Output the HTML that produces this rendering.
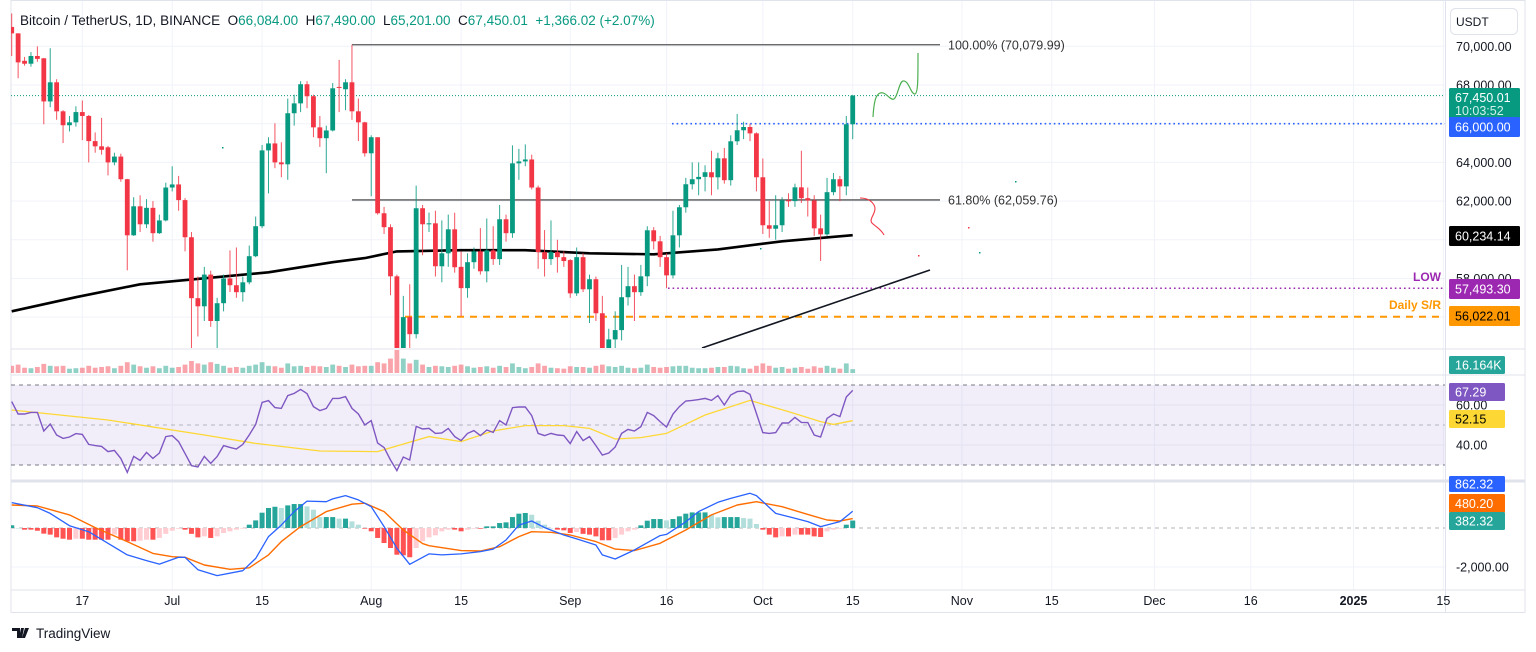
<!DOCTYPE html>
<html><head><meta charset="utf-8">
<style>
html,body{margin:0;padding:0;background:#fff;}
body{width:1536px;height:652px;overflow:hidden;font-family:"Liberation Sans",sans-serif;}
svg{display:block}
text{font-family:"Liberation Sans",sans-serif;}
</style></head>
<body>
<svg id="chart" width="1536" height="652" viewBox="0 0 1536 652" xmlns="http://www.w3.org/2000/svg">
<defs>
<clipPath id="mainClip"><rect x="11" y="0" width="1434" height="348"/></clipPath>
<clipPath id="paneClip"><rect x="11" y="350" width="1434" height="240"/></clipPath>
</defs>
<g id="grid"></g>
<g id="panes"></g>
<g id="mainG" clip-path="url(#mainClip)"></g>
<g id="subG" clip-path="url(#paneClip)"></g>
<g id="axisG"></g>
</svg>
<script>
// ---------- DATA ----------
const candleOpen = [71000,70670,69250,69100,69500,69380,67150,68140,66640,65920,66070,66600,66400,65100,64830,64780,64000,64300,63130,60230,61730,60800,61650,60340,61000,62700,62860,62050,60130,56980,56560,58200,55800,56720,58000,57650,57290,57800,59150,60700,64620,64980,64000,63900,66540,67050,68040,67420,65810,65250,65650,67900,67780,68140,66640,66070,64470,65300,61370,60650,58110,54400,56000,55120,61630,60850,60850,58630,59300,60540,58600,57500,58840,59400,58370,59450,59000,61060,60340,63950,64050,64150,62700,59360,59000,59360,59100,58950,57230,59100,57440,57960,56200,54400,54850,55330,57030,57600,57290,58110,60490,59920,59100,58160,60230,61680,62870,63130,63250,63490,63230,64210,63080,65090,65660,65830,65500,63230,60750,60570,60750,62040,62000,62710,62150,62030,60590,60280,62460,63130,62760,65970];
const candleClose = [70670,69170,69100,69500,69350,67150,68140,66640,65920,66070,66600,66400,65100,64830,64650,64000,64300,63130,60230,61730,60800,61650,60340,61000,62700,62860,62050,60130,56980,56560,58200,55800,56720,58000,57650,57290,57800,59150,60700,64620,64980,64000,63900,66540,67050,68040,67420,65810,65250,65650,67830,67850,68140,66640,66070,64470,65300,61370,60650,58110,54400,56000,55120,61630,60800,60850,58630,59300,60540,58580,57500,58840,59400,58370,59450,59000,61060,60340,63950,64050,64150,62700,59360,59000,59360,59100,58900,57230,59100,57440,57960,56200,54400,54850,55330,57030,57600,57290,58110,60490,59920,59100,58160,60230,61680,62870,63130,63250,63490,63230,64210,63080,65090,65660,65830,65500,63230,60750,60570,60750,62040,62000,62710,62150,62030,60590,60280,62460,63130,62760,65970,67450];
const candleHigh = [71700,70670,69450,69700,70000,69400,69900,68300,66700,66400,66900,67200,66450,65550,66300,64850,64500,64450,63150,62200,62300,62100,62000,61300,62950,63800,63300,62150,60400,58100,58600,58400,57000,58200,59450,59600,58100,59700,61200,64900,65300,66020,65040,67300,67500,68200,68200,67500,66400,65900,68100,69300,68300,70080,67300,66100,65400,65300,61700,60800,58200,57100,57700,62800,61800,61400,61500,61000,61300,61400,59400,59300,59600,60600,61100,60700,61800,61300,64880,64700,64930,64400,62800,60500,61000,60000,59400,59000,59600,59300,58200,58100,57100,55400,56300,58700,58600,58200,58700,60700,60650,60200,59300,61500,61800,63200,64000,64000,63850,64600,64500,64750,65400,66500,66100,66000,65550,64200,62000,62300,62200,62400,62900,64600,62700,62300,61300,63200,63450,63300,66400,67490];
const candleLow = [69500,68350,69000,68950,69200,65970,66850,66200,65000,65600,65850,65150,64000,64500,64400,63330,63850,63000,58420,60200,60400,60600,59900,60300,60950,62500,61500,59400,54400,55000,55800,55500,54400,56300,57300,57000,56800,57700,59100,60600,62400,63700,63230,63100,65900,66600,66800,65300,64800,63440,65600,66600,66700,66200,65100,64300,62250,61300,60300,57130,49000,53900,54100,54900,59200,60400,58100,57800,58600,58300,56050,57000,58500,58200,57800,58700,58700,59900,60100,63100,63800,62600,58500,58100,58700,58300,58600,57000,57100,57300,55700,55800,53000,53800,53700,54800,56600,55800,57100,57600,59500,58600,57500,58000,59600,61400,62600,62300,62500,62300,62600,62900,62800,64900,65200,65100,62500,60300,60100,60000,60400,61700,61700,61900,61200,60200,58900,60200,62300,62000,62300,65201];
const volumeK = [30,35,22,20,25,38,30,28,30,18,20,22,30,22,25,28,20,30,45,35,28,22,28,20,30,22,25,35,50,40,35,45,38,30,22,25,22,30,35,45,30,28,22,40,28,30,25,30,28,25,35,30,25,35,28,30,30,45,40,60,110,60,40,55,35,25,30,28,25,30,35,28,22,25,28,22,30,25,40,25,20,25,40,30,22,20,18,28,25,25,22,30,35,28,25,30,22,20,22,35,25,22,25,28,30,30,22,20,20,22,25,25,30,28,20,18,30,40,30,22,25,18,22,25,18,28,22,30,22,18,40,16];
const ma200Idx = [0,10,20,30,40,50,55,60,70,80,90,100,110,120,131];
const ma200Val = [56300,57030,57700,58010,58320,58840,59050,59400,59460,59460,59300,59250,59500,59920,60234];
const rsiVal = [61.7,55.5,55.5,56.3,56.3,47,50.5,45,43.3,44,45.7,45.3,40.3,39.7,39.3,36.7,37.3,33.3,26.3,34.3,32.3,36.3,33.3,36,44.2,44.7,41.7,35.8,29.7,29,34.3,30.8,34.2,39.7,38.8,38,40.3,45,50.3,61.3,62.2,58.7,58.3,64.7,65.8,67.8,65.7,59.2,57.2,58.3,63.3,63.3,64.2,58.3,55.5,50,52.2,41,38.7,32.5,27.2,34,32.5,49.3,48,48.3,45.8,46,48.3,44.2,42.2,45.8,47.2,44.7,47.5,46.3,52.2,50,58.7,59,59,54.7,45.8,44.7,45.8,45,44.7,40.7,46.7,42.2,44.2,39.7,35,36,39,45.8,47.8,47,49.2,56.3,54.7,51.7,49,55.5,59.2,62,62.3,62.7,63.3,62.3,64.7,60,65,66.7,67,65.3,55.8,46.2,45.8,46.2,51,51,53.8,51.3,51.2,45,44,53.3,55.5,54.2,64,67.29];
const rsiMaIdx = [0,15,30,38,48,57,68,79,89,103,117,126,131];
const rsiMaVal = [57.5,52.5,45,40.8,37,36.7,35,36.7,38,43.3,52.5,58.3,62];
const rsiMaIdx2 = [65,70,75,80,86,90,94,98,102,108,115,121,126,128,131];
const rsiMaVal2 = [44.2,41.7,47,49.7,49.7,48.3,43,43.7,45.8,55,62.3,56.7,51.7,50.3,52.15];
const macdIdx = [0,4,6,9,12,15,18,21,23,26,27,29,32,36,38,40,42,44,46,49,50,52,54,56,58,60,62,65,67,70,73,75,77,79,81,83,86,88,91,92,94,97,101,102,105,107,110,112,115,116,119,122,124,126,129,131];
const macdVal = [1300,1040,750,120,-190,-785,-1380,-1670,-1850,-1500,-1500,-2140,-2440,-2190,-1560,-440,150,840,1380,1350,1490,1660,1440,1090,70,-1040,-1860,-1330,-1380,-1330,-1210,-1080,-615,150,360,20,-360,-560,-870,-1380,-1590,-1130,-390,-330,320,840,1320,1520,1780,1660,750,500,330,70,330,862];
const signalIdx = [0,4,9,13,18,22,25,27,30,34,37,40,42,45,49,53,55,58,61,64,65,70,73,76,79,81,84,87,91,94,97,101,105,109,113,116,120,124,127,129,131];
const signalVal = [1180,1130,670,20,-700,-1300,-1470,-1500,-1900,-2120,-2040,-1380,-700,70,840,1220,1270,840,-100,-800,-910,-1160,-1180,-960,-440,-190,-220,-360,-700,-1080,-1160,-785,-100,670,1180,1350,1090,700,410,360,480];
const histVal = [140,0,-85,-85,-140,-290,-340,-480,-550,-600,-550,-550,-600,-600,-600,-600,-340,-600,-680,-680,-650,-600,-600,-510,-300,-140,-40,-85,-300,-480,-430,-510,-430,-255,-170,-85,-35,170,390,785,1025,1090,1025,1160,1230,1230,1110,940,560,560,560,480,480,340,170,-35,-170,-510,-770,-1025,-1370,-1400,-1500,-1025,-680,-480,-375,-170,-85,-85,-170,-85,-35,-35,85,85,255,290,560,735,770,680,375,170,0,-85,-120,-255,-205,-300,-340,-430,-630,-630,-510,-340,-170,-85,135,375,460,460,390,460,600,735,800,800,800,680,545,560,560,560,510,480,205,-85,-340,-480,-430,-430,-340,-340,-340,-430,-460,-170,-85,-35,170,382];
const priceTicks = [70000,68000,64000,62000,58000];
const timeTickLabels = ["17","Jul","15","Aug","15","Sep","16","Oct","15","Nov","15","Dec","16","2025","15"];
const timeTickIdx = [11,25,39,56,70,87,102,117,131,148,162,178,193,209,223];

// ---------- SCALES ----------
const X0 = 11.7, STEP = 6.42;
const xAt = i => X0 + STEP * i;
const yP = p => 85 + (68000 - p) * 0.019345;
const yR = v => 425 - (v - 50) * 2;
const yM = v => 528 - v * 39 / 2000;
const NS = "http://www.w3.org/2000/svg";
function mk(parent, tag, attrs, txt) {
  const e = document.createElementNS(NS, tag);
  for (const k in attrs) e.setAttribute(k, attrs[k]);
  if (txt !== undefined) e.textContent = txt;
  parent.appendChild(e);
  return e;
}
const grid = document.getElementById('grid');
const panes = document.getElementById('panes');
const mainG = document.getElementById('mainG');
const subG = document.getElementById('subG');
const axisG = document.getElementById('axisG');

// ---------- GRID ----------
[70000,68000,66000,64000,62000,60000,58000,56000].forEach(p => {
  const l = mk(grid, 'line', {x1:11, x2:1445, y1:yP(p), y2:yP(p), stroke:'#f0f3fa', 'stroke-width':1});
  
  
});
timeTickIdx.forEach(i => {
  const l = mk(grid, 'line', {x1:xAt(i), x2:xAt(i), y1:0, y2:590, stroke:'#f0f3fa', 'stroke-width':1});
  
  
});
[405,445].forEach(y => {
  const l = mk(grid, 'line', {x1:11, x2:1445, y1:y, y2:y, stroke:'#f0f3fa'});
  
  
});
[567].forEach(y => {
  const l = mk(grid, 'line', {x1:11, x2:1445, y1:y, y2:y, stroke:'#f0f3fa'});
  
  
});

// ---------- PANE FRAMES ----------
const frame = mk(panes, 'rect', {x:11, y:0.5, width:1514, height:612, fill:'none', stroke:'#e0e3eb'});


[[349,'volume-pane-border'],[375,'rsi-pane-border'],[481,'macd-pane-border'],[590,'time-axis-border']].forEach(([y,n]) => {
  const l = mk(panes, 'line', {x1:11, x2:1525, y1:y, y2:y, stroke:'#e0e3eb', 'stroke-width': y===481?3:1});
  
  
});
const pax = mk(panes, 'line', {x1:1445.5, x2:1445.5, y1:0, y2:613, stroke:'#e0e3eb'});



// ---------- MAIN: annotations ----------
const lastLine = mk(mainG, 'line', {x1:11, x2:1445, y1:yP(67450), y2:yP(67450), stroke:'#089981', 'stroke-width':1, 'stroke-dasharray':'1,2'});


const fib100 = mk(mainG, 'line', {x1:352, x2:940, y1:yP(70079.99), y2:yP(70079.99), stroke:'#555', 'stroke-width':1.3});


const fib618 = mk(mainG, 'line', {x1:352, x2:940, y1:yP(62059.76), y2:yP(62059.76), stroke:'#555', 'stroke-width':1.3});


const f1t = mk(mainG, 'text', {x:948, y:yP(70079.99)+4.5, 'font-size':12.5, fill:'#333'}, '100.00% (70,079.99)');


const f2t = mk(mainG, 'text', {x:948, y:yP(62059.76)+4.5, 'font-size':12.5, fill:'#333'}, '61.80% (62,059.76)');


const blueL = mk(mainG, 'line', {x1:672, x2:1445, y1:yP(66000), y2:yP(66000), stroke:'#2962ff', 'stroke-width':1.6, 'stroke-dasharray':'1.6,3'});


const lowL = mk(mainG, 'line', {x1:668, x2:1445, y1:yP(57493.3), y2:yP(57493.3), stroke:'#9c27b0', 'stroke-width':1.6, 'stroke-dasharray':'1.6,3'});


const lowT = mk(mainG, 'text', {x:1441, y:281, 'font-size':12, 'font-weight':'bold', fill:'#9c27b0', 'text-anchor':'end'}, 'LOW');


const srL = mk(mainG, 'line', {x1:405, x2:1445, y1:yP(56022.01), y2:yP(56022.01), stroke:'#ff9800', 'stroke-width':2, 'stroke-dasharray':'7,6'});


const srT = mk(mainG, 'text', {x:1441, y:309, 'font-size':12, 'font-weight':'bold', fill:'#ff9800', 'text-anchor':'end'}, 'Daily S/R');


const trend = mk(mainG, 'line', {x1:702, y1:348, x2:930, y2:270, stroke:'#131722', 'stroke-width':1.6});


const gCurve = mk(mainG, 'path', {d:'M873,117 C874,100 876,95 880,93 C886,91 890,101 894,99 C898,96 899,82 903,81 C909,80 911,95 915,94 C918,93 918,80 918,53', fill:'none', stroke:'#4caf50', 'stroke-width':1.2});


const rCurve = mk(mainG, 'path', {d:'M860,198 C866,198 871,200 874,205 C878,212 868,219 872,223 C876,227 881,229 884,235', fill:'none', stroke:'#f23645', 'stroke-width':1.1});


[[222,147,'#089981'],[1015,181,'#089981'],[979,252,'#089981'],[968,227,'#f23645'],[918,255,'#f23645'],[760,248,'#089981']].forEach(([x,y,c]) => {
  const d = mk(mainG, 'rect', {x:x, y:y, width:1.5, height:1.5, fill:c});
  
  
});

// ---------- MA 200 ----------
let maPts = ma200Idx.map((i,k) => xAt(i).toFixed(1) + ',' + yP(ma200Val[k]).toFixed(1)).join(' ');
const maLine = mk(mainG, 'polyline', {points:maPts, fill:'none', stroke:'#000', 'stroke-width':2.6, 'stroke-linejoin':'round'});



// ---------- CANDLES ----------
for (let i = 0; i < candleClose.length; i++) {
  const o = candleOpen[i], c = candleClose[i], h = candleHigh[i], l = candleLow[i];
  const up = c >= o;
  const col = up ? '#089981' : '#f23645';
  const g = mk(mainG, 'g', {});
  
  
  const w = mk(g, 'line', {x1:xAt(i), x2:xAt(i), y1:yP(h), y2:yP(l), stroke:col, 'stroke-width':1, opacity:0.85});
  
  
  const top = yP(Math.max(o,c)), bot = yP(Math.min(o,c));
  const b = mk(g, 'rect', {x:xAt(i)-2.4, y:top, width:4.8, height:Math.max(1, bot-top), fill:col});
  
  
}

// ---------- VOLUME ----------
for (let i = 0; i < volumeK.length; i++) {
  const up = candleClose[i] >= candleOpen[i];
  const hgt = volumeK[i] * 0.24;
  const r = mk(subG, 'rect', {x:xAt(i)-2.4, y:373-hgt, width:4.8, height:hgt, fill: up ? 'rgba(8,153,129,0.45)' : 'rgba(242,54,69,0.45)'});
  
  
}

// ---------- RSI ----------
const rsiBg = mk(subG, 'rect', {x:11, y:yR(70), width:1434, height:yR(30)-yR(70), fill:'rgba(126,87,194,0.1)'});


[70,50,30].forEach(v => {
  const l = mk(subG, 'line', {x1:11, x2:1445, y1:yR(v), y2:yR(v), stroke: v===50 ? '#b2b5be' : '#787b86', 'stroke-dasharray':'4,4'});
  
  
});
const rsiMaPts = rsiMaIdx.filter(i => i < 65).map(i => xAt(i).toFixed(1) + ',' + yR(rsiMaVal[rsiMaIdx.indexOf(i)]).toFixed(1))
  .concat(rsiMaIdx2.map((i,k) => xAt(i).toFixed(1) + ',' + yR(rsiMaVal2[k]).toFixed(1))).join(' ');
const rsiMaLine = mk(subG, 'polyline', {points:rsiMaPts, fill:'none', stroke:'#fdd835', 'stroke-width':1.3});


const rsiPts = rsiVal.map((v,i) => xAt(i).toFixed(1) + ',' + yR(v).toFixed(1)).join(' ');
const rsiLine = mk(subG, 'polyline', {points:rsiPts, fill:'none', stroke:'#7e57c2', 'stroke-width':1.4});



// ---------- MACD ----------
const zl = mk(subG, 'line', {x1:11, x2:1445, y1:yM(0), y2:yM(0), stroke:'#b2b5be', 'stroke-dasharray':'4,4'});


for (let i = 0; i < histVal.length; i++) {
  const hv = histVal[i], prevH = i > 0 ? histVal[i-1] : null;
  let col;
  if (hv >= 0) col = (prevH === null || hv >= prevH) ? '#26a69a' : '#b2dfdb';
  else col = (prevH === null || hv <= prevH) ? '#ff5252' : '#ffcdd2';
  const y0 = yM(0), y1 = yM(hv);
  const r = mk(subG, 'rect', {x:xAt(i)-2.5, y:Math.min(y0,y1), width:5, height:Math.max(0.5, Math.abs(y1-y0)), fill:col});
  
  
}
const macdPts = macdIdx.map((i,k) => xAt(i).toFixed(1) + ',' + yM(macdVal[k]).toFixed(1)).join(' ');
const sigPts = signalIdx.map((i,k) => xAt(i).toFixed(1) + ',' + yM(signalVal[k]).toFixed(1)).join(' ');
const sigLine = mk(subG, 'polyline', {points:sigPts, fill:'none', stroke:'#ff6d00', 'stroke-width':1.4, 'stroke-linejoin':'round'});


const macdLine = mk(subG, 'polyline', {points:macdPts, fill:'none', stroke:'#2962ff', 'stroke-width':1.3, 'stroke-linejoin':'round'});



// ---------- HEADER ----------
const hdr = mk(axisG, 'text', {x:20, y:25, 'font-size':13.5, fill:'#131722'});


const parts = [['Bitcoin / TetherUS, 1D, BINANCE  ','#131722'],['O','#131722'],['66,084.00  ','#089981'],['H','#131722'],['67,490.00  ','#089981'],['L','#131722'],['65,201.00  ','#089981'],['C','#131722'],['67,450.01  ','#089981'],['+1,366.02 (+2.07%)','#089981']];
parts.forEach(([t,c]) => {
  const s = mk(hdr, 'tspan', {fill:c}, t);
  
  
});
hdr.setAttribute('style', 'white-space:pre');

// ---------- PRICE AXIS ----------
const usdt = mk(axisG, 'rect', {x:1450.5, y:8.5, width:67, height:26, rx:5, fill:'#fff', stroke:'#e0e3eb'});


const usdtT = mk(axisG, 'text', {x:1456, y:26, 'font-size':12, fill:'#131722'}, 'USDT');


priceTicks.forEach(p => {
  const t = mk(axisG, 'text', {x:1456, y:yP(p)+4.5, 'font-size':12.5, fill:'#131722'}, p.toLocaleString('en-US') + '.00');
  
  
});
[['60.00',405],['40.00',445],['-2,000.00',567]].forEach(([s,y]) => {
  const t = mk(axisG, 'text', {x:1456, y:y+4.5, 'font-size':12.5, fill:'#131722'}, s);
  
  
});
const tags = [
  ['67,450.01', 88, 31, '#089981', '#fff', 'last-price-tag', '10:03:52'],
  ['66,000.00', 117, 20, '#2962ff', '#fff', 'level-66000-tag'],
  ['60,234.14', 226, 20, '#000', '#fff', 'ma-200-tag'],
  ['57,493.30', 279, 20, '#9c27b0', '#fff', 'low-tag'],
  ['56,022.01', 306, 20, '#ff9800', '#000', 'daily-sr-tag'],
  ['16.164K', 356, 18, '#26a69a', '#fff', 'volume-tag'],
  ['67.29', 383, 18, '#7e57c2', '#fff', 'rsi-tag'],
  ['52.15', 410, 18, '#fdd835', '#000', 'rsi-ma-tag'],
  ['862.32', 476, 16, '#2962ff', '#fff', 'macd-tag'],
  ['480.20', 494, 19, '#ff6d00', '#fff', 'signal-tag'],
  ['382.32', 512, 18, '#26a69a', '#fff', 'histogram-tag']
];
tags.forEach(([s,y,h,bg,fg,n,sub]) => {
  const w = s.length > 7 ? 71 : 56;
  const r = mk(axisG, 'rect', {x:1449, y:y, width:w, height:h, rx:1.5, fill:bg});
  
  
  const t = mk(axisG, 'text', {x:1455, y:y + (sub ? 14 : h/2 + 4.5), 'font-size':12.5, fill:fg}, s);
  
  
  if (sub) {
    const t2 = mk(axisG, 'text', {x:1455, y:y + 27, 'font-size':12.5, fill:'#d1f0ea'}, sub);
    
    
  }
});

// ---------- TIME AXIS ----------
timeTickIdx.forEach((i,k) => {
  const lbl = timeTickLabels[k];
  const t = mk(axisG, 'text', {x:xAt(i), y:605, 'font-size':12.5, fill:'#131722', 'text-anchor':'middle', 'font-weight': lbl === '2025' ? 'bold' : 'normal'}, lbl);
  
  
});

// ---------- LOGO ----------
const logo = mk(axisG, 'g', {});


const lp = mk(logo, 'path', {d:'M12,628 h8 v10 h-3 v-7 h-5 z M21,628 h3 l-2,10 h-3 z M25,628 h4 l-4,10 h-3 z', fill:'#131722'});


const lt = mk(logo, 'text', {x:36, y:638, 'font-size':13.5, fill:'#131722'}, 'TradingView');


</script>
</body></html>
